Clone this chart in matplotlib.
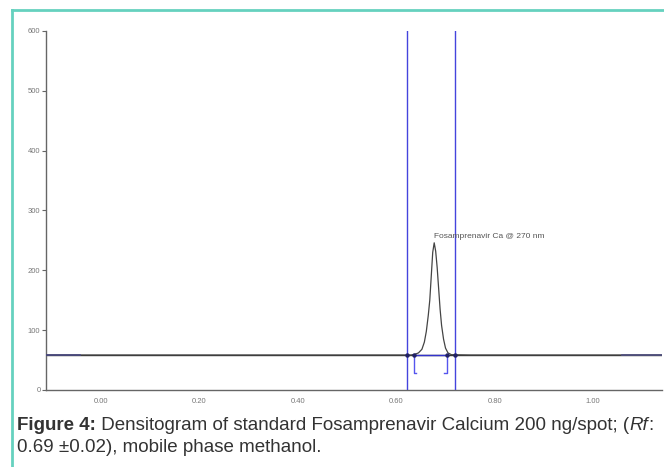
import matplotlib
matplotlib.use("Agg")
import matplotlib.pyplot as plt
from matplotlib.lines import Line2D

# ---- data ----
rf_ticks = [0.00, 0.20, 0.40, 0.60, 0.80, 1.00]
rf_tick_labels = ["0.00", "0.20", "0.40", "0.60", "0.80", "1.00"]
au_ticks = [0, 100, 200, 300, 400, 500, 600]
au_tick_labels = ["0", "100", "200", "300", "400", "500", "600"]

baseline_au = 58.5
x_min, x_max = -0.112, 1.14

# densitogram trace (Rf, AU)
trace_rf = [-0.112, 0.600, 0.630, 0.637, 0.645, 0.652, 0.657, 0.661, 0.665,
            0.668, 0.671, 0.674, 0.677, 0.680, 0.683, 0.686, 0.689, 0.692,
            0.696, 0.700, 0.705, 0.712, 0.750, 1.14]
trace_au = [58.5, 58.5, 58.5, 59.5, 62, 68, 80, 98, 125,
            150, 190, 230, 246, 232, 205, 170, 135, 108,
            85, 70, 62, 59, 58.5, 58.5]

# integration window lines (Rf)
window_rf = [0.621, 0.7195]
# peak start / end (Rf)
peak_start, peak_end = 0.635, 0.7026
bracket_bottom = 28.5
# blue baseline segments outside the plate
blue_left = [-0.112, -0.043]
blue_right = [1.058, 1.14]

peak_label = "Fosamprenavir Ca @ 270 nm"
peak_label_pos = (0.677, 256)

caption_parts = [
    ("Figure 4:", "bold", "normal"),
    (" Densitogram of standard Fosamprenavir Calcium 200 ng/spot; (", "normal", "normal"),
    ("Rf", "normal", "italic"),
    (":", "normal", "normal"),
]
caption_line2 = "0.69 \u00b10.02), mobile phase methanol."

# ---- figure ----
W, H = 664, 467
fig = plt.figure(figsize=(W / 100, H / 100), dpi=100)
plt.rcParams["font.family"] = ["Liberation Sans", "DejaVu Sans"]

ax = fig.add_axes([46 / W, 1 - 390 / H, (662 - 46) / W, (390 - 31) / H])
ax.set_xlim(x_min, x_max)
ax.set_ylim(0, 600)

for s in ["top", "right"]:
    ax.spines[s].set_visible(False)
for s in ["left", "bottom"]:
    ax.spines[s].set_color("#666666")
    ax.spines[s].set_linewidth(1.0)

ax.set_xticks(rf_ticks)
ax.set_xticklabels(rf_tick_labels)
ax.set_yticks(au_ticks)
ax.set_yticklabels(au_tick_labels)
ax.tick_params(axis="x", length=0, pad=6, labelsize=5.5, labelcolor="#777777")
ax.tick_params(axis="y", length=3, width=0.8, color="#666666", pad=1,
               labelsize=5.5, labelcolor="#777777")

# baseline (full width)
ax.plot([x_min, x_max], [baseline_au, baseline_au], color="#333333", lw=1.0, zorder=2)
# blue baseline ends
ax.plot(blue_left, [baseline_au] * 2, color="#5555ee", lw=1.2, zorder=3)
ax.plot(blue_right, [baseline_au] * 2, color="#6a6af0", lw=1.2, zorder=3)

# trace
ax.plot(trace_rf, trace_au, color="#444444", lw=0.9, zorder=4)

# window lines
for xv in window_rf:
    ax.plot([xv, xv], [0, 600], color="#4444dd", lw=1.0, zorder=3)

# peak baseline in blue
ax.plot([peak_start, peak_end], [baseline_au, baseline_au], color="#3333cc", lw=1.0, zorder=5)
# markers
ax.plot([peak_start, peak_end, window_rf[0], window_rf[1]], [baseline_au] * 4,
        ls="none", marker="o", ms=2.2, color="#222266", zorder=6)

# brackets
tick_w = 0.006
ax.plot([peak_start, peak_start, peak_start + tick_w],
        [baseline_au, bracket_bottom, bracket_bottom], color="#5555ee", lw=1.0, zorder=5)
ax.plot([peak_end, peak_end, peak_end - tick_w],
        [baseline_au, bracket_bottom, bracket_bottom], color="#5555ee", lw=1.0, zorder=5)

ax.text(peak_label_pos[0], peak_label_pos[1], peak_label, fontsize=6,
        color="#555555", ha="left", va="center")

# border (teal) at top and left
fig.add_artist(Line2D([12 / W, 1.0], [1 - 10 / H, 1 - 10 / H], transform=fig.transFigure,
                      color="#66d1bf", lw=2))
fig.add_artist(Line2D([12 / W, 12 / W], [0, 1 - 10 / H], transform=fig.transFigure,
                      color="#66d1bf", lw=2))

# caption
fig.canvas.draw()
renderer = fig.canvas.get_renderer()
cap_size = 13.5
x = 17 / W
y1 = 1 - 430 / H
for txt, weight, style in caption_parts:
    t = fig.text(x, y1, txt, fontsize=cap_size, fontweight=weight, fontstyle=style,
                 color="#333333", ha="left", va="baseline")
    bb = t.get_window_extent(renderer=renderer)
    x = bb.x1 / W
fig.text(17 / W, 1 - 452 / H, caption_line2, fontsize=cap_size, color="#333333",
         ha="left", va="baseline")

fig.savefig("out.png", dpi=100)
